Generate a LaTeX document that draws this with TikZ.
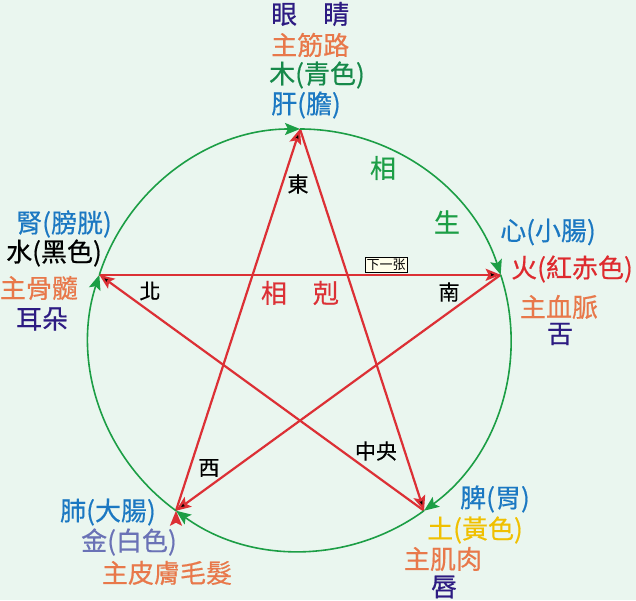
\documentclass[tikz,border=0pt]{standalone}
\usepackage{fontspec}
\setmainfont{Noto Sans CJK TC}
\newfontfamily\cjkmedium[FakeBold=0.5]{Noto Sans CJK TC}
\usepackage{tikz}
\usetikzlibrary{arrows.meta}
\definecolor{bgmint}{HTML}{EAF6EF}
\definecolor{shenggreen}{HTML}{1C9E45}
\definecolor{kered}{HTML}{DC3035}
\definecolor{indigo}{HTML}{2D1B82}
\definecolor{zhuorange}{HTML}{E8784A}
\definecolor{woodgreen}{HTML}{16894A}
\definecolor{organblue}{HTML}{1B78C2}
\definecolor{firered}{HTML}{DE2A2E}
\definecolor{metalblue}{HTML}{6A72B6}
\definecolor{earthyellow}{HTML}{F0C000}
\tikzset{>={Stealth[length=15pt,width=12pt,inset=3pt]}}

\begin{document}
\begin{tikzpicture}[x=1pt,y=1pt,
    sheng/.style={draw=shenggreen,line width=1.6pt,->},
    ke/.style={draw=kered,line width=2.2pt,->},
    organ/.style={font=\fontsize{26}{26}\cjkmedium,inner sep=0pt},
    dir/.style={font=\fontsize{21}{21}\cjkmedium,inner sep=0pt},
    button/.style={draw=black,line width=0.6pt,fill=yellow!8,inner sep=1.5pt,
        font=\fontsize{13}{13}\selectfont}]
    \useasboundingbox (0,0) rectangle (636,600);
    \fill[bgmint] (0,0) rectangle (636,600);
    \begin{scope}[shift={(300,260)}]
        \coordinate (wood) at (90:211);
        \coordinate (fire) at (18:211);
        \coordinate (earth) at (-54:211);
        \coordinate (metal) at (234:211);
        \coordinate (water) at (162:211);
        % 相剋
        \path[ke]
            (wood)  edge (earth)
            (earth) edge (water)
            (water) edge (fire)
            (fire)  edge (metal)
            (metal) edge (wood)
        ;
        % 相生
        \draw[sheng] (wood) arc[start angle=90,end angle=18,radius=211pt];
        \draw[sheng] (fire) arc[start angle=18,end angle=-54,radius=211pt];
        \draw[sheng] (earth) arc[start angle=-54,end angle=-126,radius=211pt];
        \draw[sheng] (metal) arc[start angle=234,end angle=162,radius=211pt];
        \draw[sheng] (water) arc[start angle=162,end angle=90,radius=211pt];
    \end{scope}
    % wood
    \node[organ,anchor=west,text=indigo] (eyes) at (271,586) {眼　睛};
    \node[organ,anchor=west,text=zhuorange] (sinew) at (271,555) {主筋路};
    \node[organ,anchor=west,text=woodgreen] (woodname) at (269,525) {木(青色)};
    \node[organ,anchor=west,text=organblue] (liver) at (271,495) {肝(膽)};
    % water
    \node[organ,text=organblue] (kidney) at (64,376) {腎(膀胱)};
    \node[organ,text=black] (watername) at (54,347) {水(黑色)};
    \node[organ,text=zhuorange] (marrow) at (39,312) {主骨髓};
    \node[organ,text=indigo] (ears) at (42,281) {耳朵};
    % fire
    \node[organ,text=organblue] (heart) at (548,368) {心(小腸)};
    \node[organ,text=firered] (firename) at (572,331) {火(紅赤色)};
    \node[organ,text=zhuorange] (vessel) at (559,293) {主血脈};
    \node[organ,text=indigo] (tongue) at (560,266) {舌};
    % metal
    \node[organ,text=organblue] (lung) at (108,88) {肺(大腸)};
    \node[organ,text=metalblue] (metalname) at (129,58) {金(白色)};
    \node[organ,text=zhuorange] (skin) at (167,27) {主皮膚毛髮};
    % earth
    \node[organ,text=organblue] (spleen) at (495,101) {脾(胃)};
    \node[organ,text=earthyellow] (earthname) at (475,70) {土(黃色)};
    \node[organ,text=zhuorange] (muscle) at (443,41) {主肌肉};
    \node[organ,text=indigo] (lips) at (444,13) {唇};
    % directions
    \node[dir] (east) at (298,416) {東};
    \node[dir] (south) at (449,308) {南};
    \node[dir] (north) at (150,309) {北};
    \node[dir] (west) at (209,132) {西};
    \node[dir] (centre) at (376,149) {中央};
    \node[organ,text=kered] (keword) at (300,307) {相　剋};
    \node[organ,text=shenggreen] (xiang) at (383,432) {相};
    \node[organ,text=shenggreen] (sheng) at (447,378) {生};
    \node[button] (next) at (386,335) {下一张};
\end{tikzpicture}
\end{document}
